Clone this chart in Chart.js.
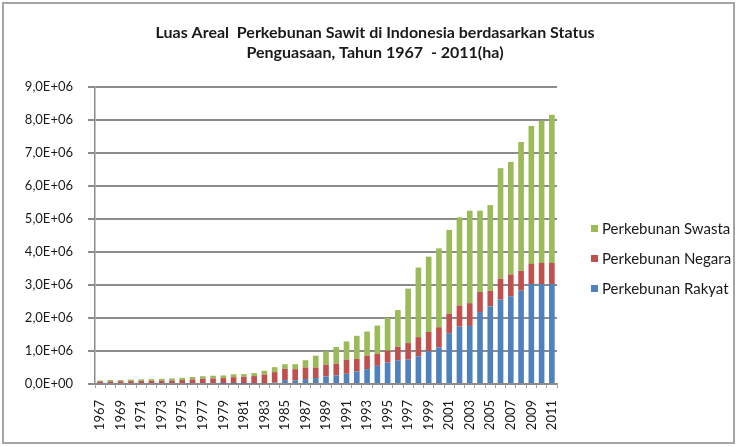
<!DOCTYPE html>
<html>
<head>
<meta charset="utf-8">
<script src="https://cdn.jsdelivr.net/npm/chart.js@4.4.0/dist/chart.umd.min.js"></script>
<style>
    html, body { margin: 0; padding: 0; background: #fff; }
</style>
</head>
<body>
<canvas id="sawitChart" width="737" height="447"></canvas>
<script>
// Luas areal perkebunan sawit (ha)

const years = [
    '1967', '1968', '1969', '1970', '1971', '1972', '1973', '1974', '1975', '1976',
    '1977', '1978', '1979', '1980', '1981', '1982', '1983', '1984', '1985', '1986',
    '1987', '1988', '1989', '1990', '1991', '1992', '1993', '1994', '1995', '1996',
    '1997', '1998', '1999', '2000', '2001', '2002', '2003', '2004', '2005', '2006',
    '2007', '2008', '2009', '2010', '2011'
];

const rakyat = [
    0, 0, 0, 0, 0, 0, 0, 0, 0, 0,
    0, 0, 3000, 6000, 10000, 15000, 25000, 40000, 120000, 110000,
    150000, 180000, 230000, 260000, 310000, 380000, 450000, 550000, 650000, 720000,
    740000, 840000, 990000, 1110000, 1540000, 1740000, 1760000, 2180000, 2350000, 2560000,
    2660000, 2830000, 3030000, 3030000, 3030000
];

const negara = [
    79000, 81000, 85000, 87000, 89000, 93000, 98000, 107000, 119000, 138000,
    160000, 170000, 176000, 200000, 210000, 225000, 260000, 320000, 340000, 340000,
    350000, 320000, 350000, 350000, 430000, 380000, 410000, 360000, 360000, 410000,
    500000, 580000, 590000, 610000, 590000, 640000, 690000, 610000, 470000, 630000,
    660000, 600000, 610000, 640000, 640000
];

const swasta = [
    27000, 39000, 35000, 46000, 50000, 54000, 60000, 62000, 69000, 74000,
    76000, 80000, 81000, 89000, 80000, 90000, 115000, 150000, 140000, 150000,
    220000, 360000, 410000, 510000, 550000, 700000, 730000, 860000, 990000, 1110000,
    1650000, 2110000, 2280000, 2390000, 2540000, 2670000, 2800000, 2460000, 2600000, 3350000,
    3410000, 3900000, 4180000, 4310000, 4490000
];

const seriesNames = ['Perkebunan Rakyat', 'Perkebunan Negara', 'Perkebunan Swasta'];
const seriesColors = ['#4f81bd', '#c0504d', '#9bbb59'];

const yMax = 9000000;
const yStep = 1000000;

const titleLines = [
    'Luas Areal  Perkebunan Sawit di Indonesia berdasarkan Status',
    'Penguasaan, Tahun 1967  - 2011(ha)'
];

const FONT = 'Lato, "Open Sans", sans-serif';


// 9000000 -> "9,0E+06", like the spreadsheet axis
function sciLabel(value) {
    const [mant, exp] = Number(value).toExponential(1).split('e');
    const sign = exp[0] === '-' ? '-' : '+';
    const digits = exp.replace(/[+-]/, '').padStart(2, '0');
    return mant.replace('.', ',') + 'E' + sign + digits;
}


// Outer frame of the chart
const framePlugin = {
    id: 'frame',
    beforeDraw(chart) {
        const { ctx } = chart;
        ctx.save();
        ctx.fillStyle = '#ffffff';
        ctx.fillRect(0, 0, chart.width, chart.height);
        ctx.strokeStyle = '#a5a5a5';
        ctx.lineWidth = 2;
        ctx.strokeRect(3, 3, chart.width - 6, chart.height - 7);
        ctx.restore();
    }
};


// Title centred on the whole chart, not only on the plot area
const centerTitlePlugin = {
    id: 'centerTitle',
    afterDraw(chart) {
        const { ctx } = chart;
        ctx.save();
        ctx.font = 'bold 16px ' + FONT;
        ctx.fillStyle = '#1a1a1a';
        ctx.textAlign = 'center';
        ctx.textBaseline = 'middle';
        titleLines.forEach((line, i) => {
            ctx.fillText(line, 375, 33 + i * 20);
        });
        ctx.restore();
    }
};


// Legend on the right, top item is the top of the stack
const sideLegendPlugin = {
    id: 'sideLegend',
    afterDraw(chart) {
        const { ctx } = chart;
        const x = 591;
        const rowStart = 228;
        const rowGap = 30;
        ctx.save();
        ctx.font = '15px ' + FONT;
        ctx.textBaseline = 'middle';
        ctx.textAlign = 'left';
        const items = chart.data.datasets.slice().reverse();
        items.forEach((ds, i) => {
            const y = rowStart + i * rowGap;
            ctx.fillStyle = ds.backgroundColor;
            ctx.fillRect(x, y - 3, 7, 7);
            ctx.fillStyle = '#1a1a1a';
            ctx.fillText(ds.label, x + 11, y + 1);
        });
        ctx.restore();
    }
};


const ctx = document.getElementById('sawitChart').getContext('2d');

const chart = new Chart(ctx, {
    type: 'bar',
    data: {
        labels: years,
        datasets: [
            { label: seriesNames[0], data: rakyat, backgroundColor: seriesColors[0] },
            { label: seriesNames[1], data: negara, backgroundColor: seriesColors[1] },
            { label: seriesNames[2], data: swasta, backgroundColor: seriesColors[2] }
        ]
    },
    options: {
        responsive: false,
        animation: false,
        layout: {
            padding: { left: 0, right: 180, top: 87, bottom: 0 }
        },
        datasets: {
            bar: {
                categoryPercentage: 1.0,
                barPercentage: 0.55
            }
        },
        plugins: {
            legend: { display: false },
            tooltip: { enabled: false },
            title: { display: false }
        },
        scales: {
            x: {
                stacked: true,
                afterFit(scale) {
                    scale.height = 63;
                },
                border: { color: '#8c8c8c', width: 1.5 },
                grid: {
                    display: true,
                    drawOnChartArea: false,
                    drawTicks: true,
                    tickLength: 4,
                    color: '#a0a0a0'
                },
                ticks: {
                    autoSkip: false,
                    maxRotation: 90,
                    minRotation: 90,
                    padding: 12,
                    color: '#1a1a1a',
                    font: { family: FONT, size: 13 },
                    callback(value, index) {
                        return index % 2 === 0 ? years[index] : '';
                    }
                }
            },
            y: {
                stacked: true,
                min: 0,
                max: yMax,
                afterFit(scale) {
                    scale.width = 95;
                },
                border: { color: '#8c8c8c', width: 1.5 },
                grid: {
                    color: '#8c8c8c',
                    lineWidth: 2,
                    drawTicks: true,
                    tickLength: 7
                },
                ticks: {
                    stepSize: yStep,
                    padding: 15,
                    color: '#1a1a1a',
                    font: { family: FONT, size: 13 },
                    callback(value) {
                        return sciLabel(value);
                    }
                }
            }
        }
    },
    plugins: [framePlugin, centerTitlePlugin, sideLegendPlugin]
});
</script>
</body>
</html>
